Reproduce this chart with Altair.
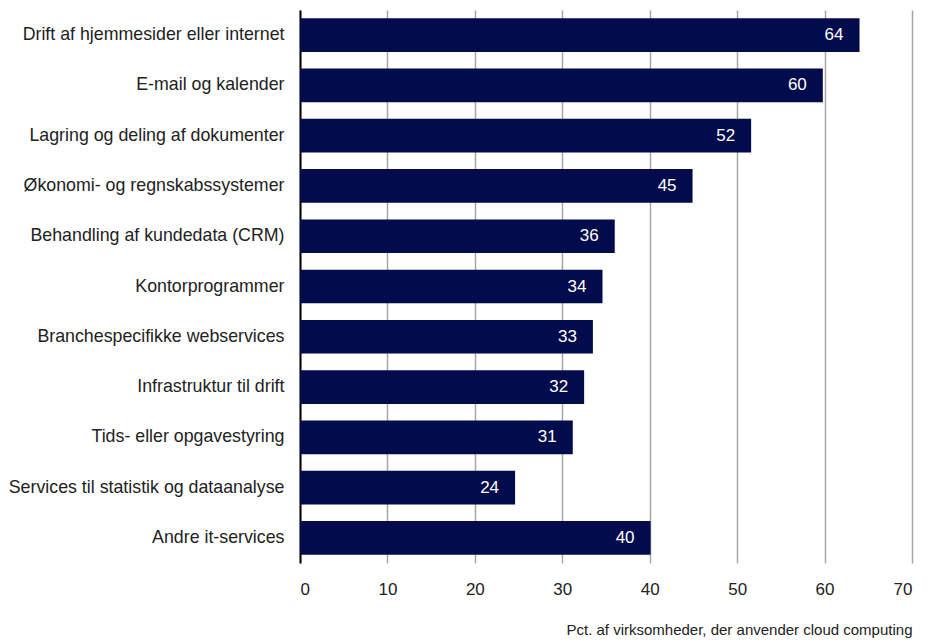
import altair as alt
import pandas as pd

categories = [
    "Drift af hjemmesider eller internet",
    "E-mail og kalender",
    "Lagring og deling af dokumenter",
    "Økonomi- og regnskabssystemer",
    "Behandling af kundedata (CRM)",
    "Kontorprogrammer",
    "Branchespecifikke webservices",
    "Infrastruktur til drift",
    "Tids- eller opgavestyring",
    "Services til statistik og dataanalyse",
    "Andre it-services",
]
values = [64.0, 59.8, 51.6, 44.9, 36.0, 34.6, 33.5, 32.5, 31.2, 24.6, 40.1]
labels = ["64", "60", "52", "45", "36", "34", "33", "32", "31", "24", "40"]
x_ticks = [0, 10, 20, 30, 40, 50, 60, 70]

df = pd.DataFrame({"cat": categories, "val": values, "lab": labels})

FONT = "Liberation Sans Narrow, Arial Narrow, Liberation Sans, sans-serif"

y_enc = alt.Y(
    "cat:N",
    sort=categories,
    scale=alt.Scale(paddingInner=0.33, paddingOuter=0.165),
    axis=alt.Axis(
        title=None,
        domainColor="black",
        domainWidth=2,
        ticks=False,
        labelPadding=16,
        labelFontSize=17.8,
        labelColor="#222222",
        labelFont=FONT,
        labelLimit=300,
        grid=False,
    ),
)

x_enc = alt.X(
    "val:Q",
    scale=alt.Scale(domain=[0, 70], nice=False),
    axis=alt.Axis(
        values=x_ticks,
        title="Pct. af virksomheder, der anvender cloud computing",
        titleAnchor="end",
        titleFontWeight="normal",
        titleFontSize=15,
        titleFont=FONT,
        titleColor="#222222",
        titlePadding=25,
        labelFontSize=17,
        labelFont=FONT,
        labelColor="#222222",
        labelPadding=18,
        ticks=False,
        domain=False,
        grid=True,
        gridColor="#a6a6a6",
        gridWidth=1.5,
    ),
)

bars = alt.Chart(df).mark_bar(color="#020b4b").encode(x=x_enc, y=y_enc)

text = alt.Chart(df).mark_text(
    align="right", baseline="middle", dx=-16, color="white", fontSize=17, font=FONT
).encode(
    x=alt.X("val:Q"),
    y=alt.Y("cat:N", sort=categories),
    text="lab:N",
)

chart = (
    (bars + text)
    .properties(
        width=612,
        height=553,
        autosize=alt.AutoSizeParams(type="none"),
        padding={"left": 292, "top": 2, "right": 10, "bottom": 78},
    )
    .configure_view(stroke=None)
)

chart.save("out.html", embed_options={"renderer": "svg", "actions": False})
